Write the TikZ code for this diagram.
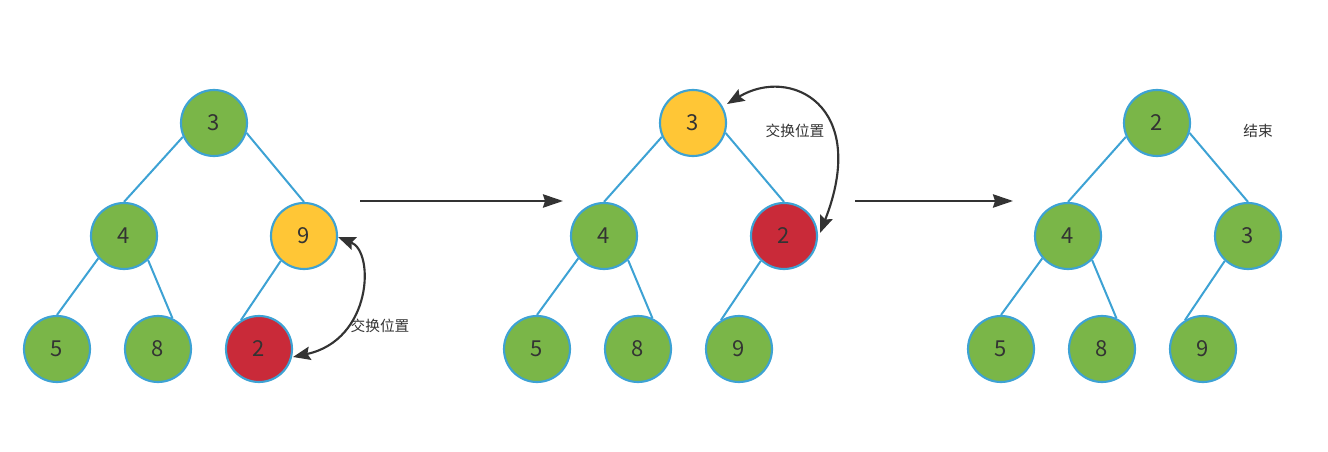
\documentclass[tikz,border=0pt]{standalone}
\usepackage{fontspec}
\setmainfont{Noto Sans CJK SC}
\usetikzlibrary{arrows.meta}
\definecolor{ngreen}{HTML}{7AB648}
\definecolor{nyellow}{HTML}{FFC636}
\definecolor{nred}{HTML}{C92A39}
\definecolor{nborder}{HTML}{3DA2D4}
\definecolor{ntext}{HTML}{333333}
\definecolor{arr}{HTML}{333333}
\begin{document}
\begin{tikzpicture}[x=0.75pt,y=-0.75pt,
  tnode/.style={circle,draw=nborder,line width=1.6pt,minimum size=49.5pt,inner sep=0pt,font=\fontsize{16.5}{16.5}\selectfont,text=ntext},
  gnode/.style={tnode,fill=ngreen},
  ynode/.style={tnode,fill=nyellow},
  rnode/.style={tnode,fill=nred},
  edge/.style={draw=nborder,line width=1.5pt},
  bigarrow/.style={draw=arr,line width=1.5pt,-{Stealth[length=15pt,width=10pt,inset=1.5pt]}},
  swaparrow/.style={draw=arr,line width=1.6pt,{Stealth[length=13pt,width=10pt,inset=2pt]}-{Stealth[length=13pt,width=10pt,inset=2pt]}},
  lbl/.style={font=\fontsize{11}{11}\selectfont,text=ntext,inner sep=0pt}]
\useasboundingbox (0,0) rectangle (1328,452);
% Tree 1
\node[gnode] (a3) at (214,123) {3};
\node[gnode] (a4) at (124,236) {4};
\node[ynode] (a9) at (304,236) {9};
\node[gnode] (a5) at (57,349) {5};
\node[gnode] (a8) at (158,349) {8};
\node[rnode] (a2) at (259,349) {2};
\draw[edge] (a3.204) -- (a4.90);
\draw[edge] (a3.343) -- (a9.90);
\draw[edge] (a4.221) -- (a5.90);
\draw[edge] (a4.315) -- (a8.65);
\draw[edge] (a9.227) -- (a2.122);
\coordinate (s1a) at (338,237);
\coordinate (s1b) at (293,357);
\draw[swaparrow] (s1a) .. controls (375,252) and (372,340) .. (s1b);
\node[lbl] (l1) at (380,326) {交换位置};
% Tree 2
\node[ynode] (b3) at (693,123) {3};
\node[gnode] (b4) at (604,236) {4};
\node[rnode] (b2) at (784,236) {2};
\node[gnode] (b5) at (537,349) {5};
\node[gnode] (b8) at (638,349) {8};
\node[gnode] (b9) at (739,349) {9};
\draw[edge] (b3.204) -- (b4.90);
\draw[edge] (b3.343) -- (b2.90);
\draw[edge] (b4.221) -- (b5.90);
\draw[edge] (b4.315) -- (b8.65);
\draw[edge] (b2.227) -- (b9.122);
\coordinate (s2a) at (727,104);
\coordinate (s2b) at (820,233);
\draw[swaparrow] (s2a) .. controls (790,66) and (870,105) .. (s2b);
\node[lbl] (l2) at (795,131) {交换位置};
% Tree 3
\node[gnode] (c2) at (1157,123) {2};
\node[gnode] (c4) at (1068,236) {4};
\node[gnode] (c3) at (1248,236) {3};
\node[gnode] (c5) at (1001,349) {5};
\node[gnode] (c8) at (1102,349) {8};
\node[gnode] (c9) at (1203,349) {9};
\draw[edge] (c2.204) -- (c4.90);
\draw[edge] (c2.343) -- (c3.90);
\draw[edge] (c4.221) -- (c5.90);
\draw[edge] (c4.315) -- (c8.65);
\draw[edge] (c3.227) -- (c9.122);
\node[lbl] (l3) at (1258,131) {结束};
% Step arrows
\coordinate (p1s) at (360,201);
\coordinate (p1e) at (563,201);
\coordinate (p2s) at (855,201);
\coordinate (p2e) at (1013,201);
\draw[bigarrow] (p1s) -- (p1e);
\draw[bigarrow] (p2s) -- (p2e);
\end{tikzpicture}
\end{document}
